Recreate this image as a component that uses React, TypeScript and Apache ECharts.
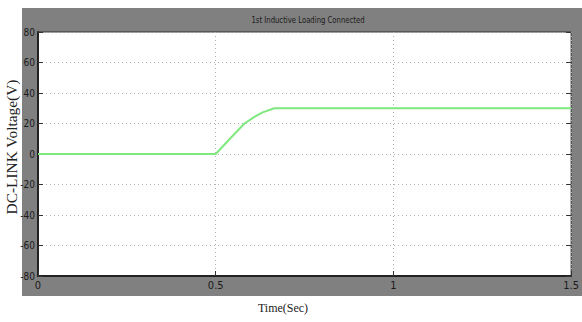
import React, { useEffect, useRef } from "react";
import * as echarts from "echarts";

const timeValues: number[] = [0, 0.5, 0.54, 0.581, 0.61, 0.632, 0.665, 1.0, 1.5];
const voltageValues: number[] = [0, 0, 10, 20, 24.5, 27.3, 30, 30, 30];
const xTicks: string[] = ["0", "0.5", "1", "1.5"];
const yTicks: number[] = [-80, -60, -40, -20, 0, 20, 40, 60, 80];
const titleText = "1st Inductive Loading Connected";
const yLabel = "DC-LINK Voltage(V)";
const xLabel = "Time(Sec)";

export default function App() {
  const ref = useRef<HTMLDivElement>(null);
  useEffect(() => {
    document.body.style.margin = "0";
    const chart = echarts.init(ref.current!, null, { renderer: "svg" });
    const data = timeValues.map((t, i) => [t, voltageValues[i]]);
    const narrow = "'Liberation Sans Narrow', 'DejaVu Sans Condensed', sans-serif";
    chart.setOption({
      animation: false,
      backgroundColor: "#ffffff",
      graphic: [
        {
          type: "rect",
          z: -100,
          shape: { x: 22, y: 8, width: 560, height: 288 },
          style: { fill: "#808080" },
        },
        {
          type: "text",
          x: 308,
          y: 20,
          scaleX: 0.85,
          style: {
            text: titleText,
            fill: "#1a1a1a",
            font: "9px " + narrow,
            textAlign: "center",
            textVerticalAlign: "middle",
          },
        },
        {
          type: "text",
          x: 12,
          y: 147,
          rotation: Math.PI / 2,
          scaleX: 1.1,
          style: {
            text: yLabel,
            fill: "#222",
            font: "14px 'Liberation Serif', 'DejaVu Serif', serif",
            textAlign: "center",
            textVerticalAlign: "middle",
          },
        },
        {
          type: "text",
          x: 283,
          y: 308,
          style: {
            text: xLabel,
            fill: "#222",
            font: "12px 'Liberation Serif', 'DejaVu Serif', serif",
            textAlign: "center",
            textVerticalAlign: "middle",
          },
        },
      ],
      grid: {
        left: 38,
        top: 32,
        right: 3,
        bottom: 46,
        show: true,
        backgroundColor: "#ffffff",
        borderColor: "#333",
        borderWidth: 1,
      },
      xAxis: {
        type: "value",
        min: 0,
        max: 1.5,
        interval: 0.5,
        axisLine: { show: true, onZero: false, lineStyle: { color: "#222", width: 2 } },
        axisTick: { show: true, inside: true, length: 5, lineStyle: { color: "#333" } },
        axisLabel: {
          color: "#1a1a1a",
          fontSize: 11,
          fontFamily: narrow,
          margin: 4,
          showMaxLabel: true,
          formatter: (v: number) => {
            const idx = Math.round(v / 0.5);
            return xTicks[idx] ?? "";
          },
        },
        splitLine: { show: true, lineStyle: { color: "#b0b0b0", type: [1, 3], width: 1 } },
      },
      yAxis: [
        {
          type: "value",
          min: -80,
          max: 80,
          interval: 20,
          axisLine: { show: true, lineStyle: { color: "#222", width: 2 } },
          axisTick: { show: true, inside: true, length: 5, lineStyle: { color: "#333" } },
          axisLabel: {
            color: "#1a1a1a",
            fontSize: 10,
            fontFamily: narrow,
            margin: 3,
            formatter: (v: number) => (yTicks.includes(v) ? String(v) : ""),
          },
          splitLine: { show: true, lineStyle: { color: "#b0b0b0", type: [1, 3], width: 1 } },
        },
        {
          type: "value",
          position: "right",
          min: -80,
          max: 80,
          interval: 20,
          axisLine: { show: false },
          axisTick: { show: true, inside: true, length: 5, lineStyle: { color: "#333" } },
          axisLabel: { show: false },
          splitLine: { show: false },
        },
      ],
      series: [
        {
          type: "line",
          data,
          showSymbol: false,
          symbol: "none",
          lineStyle: { color: "#7ee87e", width: 2 },
          yAxisIndex: 0,
        },
      ],
    });
    return () => chart.dispose();
  }, []);
  return <div ref={ref} style={{ width: 582, height: 322 }} />;
}
